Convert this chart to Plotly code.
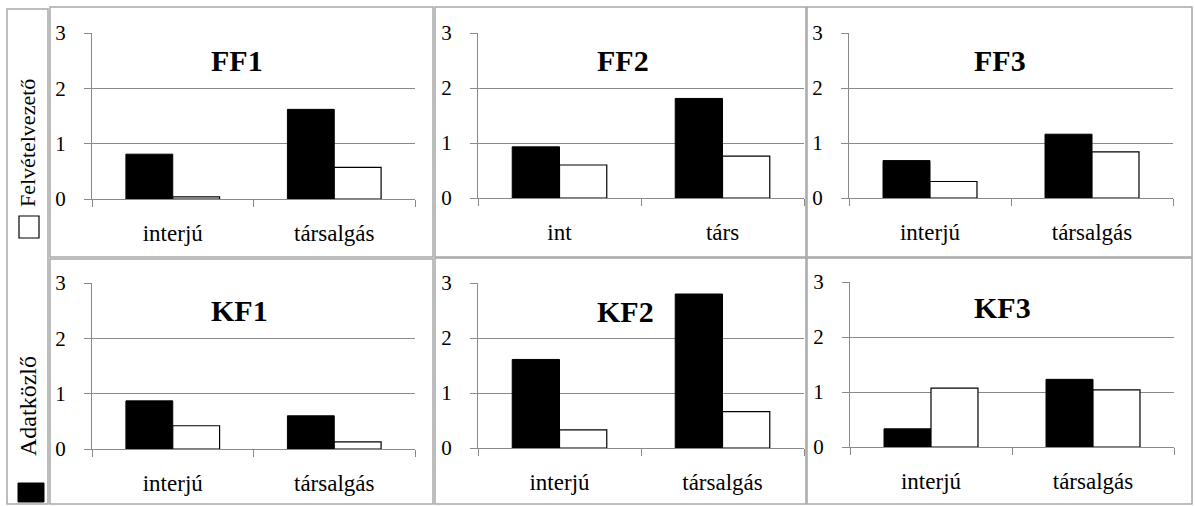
import plotly.graph_objects as go

W, H = 1195, 506

# Panel names and their category labels
panels = ["FF1", "FF2", "FF3", "KF1", "KF2", "KF3"]
cats_full = ["interjú", "társalgás"]
cats_short = ["int", "társ"]
panel_cats = [cats_full, cats_short, cats_full, cats_full, cats_full, cats_full]

# Values: Adatközlő (black bars) and Felvételvezető (white bars)
adatkozlo = [
    [0.81, 1.62],
    [0.93, 1.81],
    [0.68, 1.16],
    [0.87, 0.60],
    [1.61, 2.80],
    [0.33, 1.23],
]
felvetelvezeto = [
    [0.04, 0.57],
    [0.60, 0.76],
    [0.30, 0.84],
    [0.42, 0.13],
    [0.33, 0.66],
    [1.07, 1.04],
]
y_ticks = [0, 1, 2, 3]

# plot-area boxes in pixels: (x0, x1, y_top, y_bottom)
boxes = [
    (92, 415, 33, 199),
    (478, 804, 33, 198),
    (849, 1173, 33, 198),
    (92, 415, 283, 449),
    (478, 804, 283, 448),
    (850, 1174, 282, 447),
]
# title centres in pixels
title_pos = [(237, 61), (623, 61), (1000, 61), (239, 310), (625, 311), (1002, 307)]
# panel frames in pixels
frames = [
    (50, 433, 7, 257), (435, 806, 7, 257), (807, 1192, 7, 257),
    (50, 433, 259, 504), (435, 806, 258, 504), (807, 1192, 258, 504),
]

SERIF = "Liberation Serif"
GRID = "#8a8a8a"
FRAME = "#a8a8a8"

fig = go.Figure()
layout = dict(
    template="none",
    width=W, height=H,
    margin=dict(l=0, r=0, t=0, b=0, pad=0),
    paper_bgcolor="white", plot_bgcolor="white",
    showlegend=False,
    barmode="group", bargap=0.42, bargroupgap=0.0,
    font=dict(family=SERIF, color="#000000"),
)

def px_x(v):
    return v / W

def px_y(v):
    return 1 - v / H

annotations = []
shapes = []

for i, name in enumerate(panels):
    k = "" if i == 0 else str(i + 1)
    xa, ya = "x" + k, "y" + k
    x0, x1, y0, y1 = boxes[i]
    cats = panel_cats[i]
    fig.add_trace(go.Bar(
        x=cats, y=adatkozlo[i], name="Adatközlő",
        marker=dict(color="#000000", line=dict(color="#000000", width=1)),
        xaxis=xa, yaxis=ya, offsetgroup="a",
    ))
    fig.add_trace(go.Bar(
        x=cats, y=felvetelvezeto[i], name="Felvételvezető",
        marker=dict(color="#ffffff", line=dict(color="#000000", width=1.2)),
        xaxis=xa, yaxis=ya, offsetgroup="b",
    ))
    layout["xaxis" + k] = dict(
        domain=[px_x(x0), px_x(x1)], anchor=ya,
        type="category", tickson="boundaries",
        ticks="outside", ticklen=7, tickcolor=GRID, tickwidth=1,
        showline=True, linecolor=GRID, linewidth=1,
        showgrid=False, zeroline=False, automargin=False,
        tickfont=dict(family=SERIF, size=23, color="#000000"),
        ticklabelstandoff=13,
        fixedrange=True,
    )
    layout["yaxis" + k] = dict(
        domain=[px_y(y1), px_y(y0)], anchor=xa,
        range=[0, 3], tickvals=y_ticks,
        ticks="outside", ticklen=7, tickcolor=GRID, tickwidth=1,
        showline=True, linecolor=GRID, linewidth=1,
        showgrid=True, gridcolor=GRID, gridwidth=1,
        zeroline=False, automargin=False,
        tickfont=dict(family=SERIF, size=21, color="#000000"),
        ticklabelstandoff=14,
        fixedrange=True,
    )
    tx, ty = title_pos[i]
    annotations.append(dict(
        text="<b>%s</b>" % name, x=px_x(tx), y=px_y(ty),
        xref="paper", yref="paper", xanchor="center", yanchor="middle",
        showarrow=False, font=dict(family=SERIF, size=30, color="#000000"),
    ))
    fx0, fx1, fy0, fy1 = frames[i]
    shapes.append(dict(
        type="rect", xref="paper", yref="paper",
        x0=px_x(fx0), x1=px_x(fx1), y0=px_y(fy1), y1=px_y(fy0),
        line=dict(color=FRAME, width=1.5), fillcolor="rgba(0,0,0,0)", layer="below",
    ))

# legend strip on the left
shapes.append(dict(
    type="rect", xref="paper", yref="paper",
    x0=px_x(7), x1=px_x(48), y0=px_y(504), y1=px_y(9),
    line=dict(color=FRAME, width=1.5), fillcolor="rgba(0,0,0,0)",
))
shapes.append(dict(
    type="rect", xref="paper", yref="paper",
    x0=px_x(19), x1=px_x(39), y0=px_y(238), y1=px_y(216),
    line=dict(color="#000000", width=1.2), fillcolor="#ffffff",
))
shapes.append(dict(
    type="rect", xref="paper", yref="paper",
    x0=px_x(18), x1=px_x(44), y0=px_y(502), y1=px_y(483),
    line=dict(color="#000000", width=1), fillcolor="#000000",
))
annotations.append(dict(
    text="Felvételvezető", x=px_x(28), y=px_y(143),
    xref="paper", yref="paper", xanchor="center", yanchor="middle",
    textangle=-90, showarrow=False,
    font=dict(family=SERIF, size=22, color="#000000"),
))
annotations.append(dict(
    text="Adatközlő", x=px_x(28), y=px_y(406),
    xref="paper", yref="paper", xanchor="center", yanchor="middle",
    textangle=-90, showarrow=False,
    font=dict(family=SERIF, size=24, color="#000000"),
))

layout["annotations"] = annotations
layout["shapes"] = shapes
fig.update_layout(**layout)
fig.write_html("out.html")
